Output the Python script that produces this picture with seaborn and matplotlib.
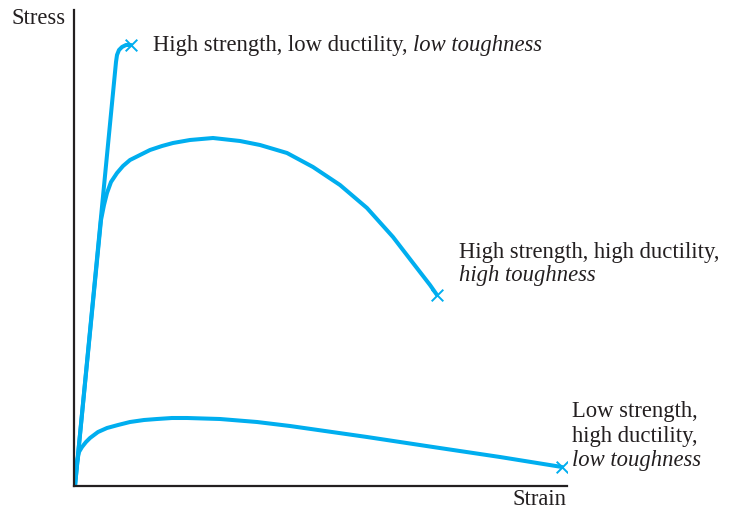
import matplotlib
matplotlib.use("Agg")
import matplotlib.pyplot as plt
import seaborn as sns
import pandas as pd

sns.set_theme(style="white")
plt.rcParams['font.family'] = ['Liberation Serif', 'DejaVu Serif']

# Curve data (strain, stress) in arbitrary units
brittle_strain = [1, 42, 43, 45, 48, 52, 57]
brittle_stress = [0, 424, 431, 436, 439, 441, 441]

tough_strain = [1, 27, 30, 33, 37, 43, 49, 56, 66, 76, 88, 99, 116, 139, 166, 186, 213, 239, 266, 293, 319, 339, 356, 363]
tough_stress = [0, 266, 281, 293, 304, 313, 320, 326, 331, 336, 340, 343, 346, 348, 345, 341, 333, 319, 301, 278, 249, 223, 201, 191]

soft_strain = [0, 3, 5, 8, 12, 16, 24, 33, 44, 56, 70, 83, 98, 113, 146, 183, 216, 244, 293, 359, 426, 488]
soft_stress = [0, 24, 34, 39, 44, 48, 54, 58, 61, 64, 66, 67, 68, 68, 67, 64, 60, 56, 49, 39, 29, 19]

labels = ["High strength, low ductility, ", "High strength, high ductility,", "Low strength,", "high ductility,"]
italic_labels = ["low toughness", "high toughness", "low toughness"]

color = "#00AEEF"
ink = "#231F20"

df = pd.concat([
    pd.DataFrame({"strain": brittle_strain, "stress": brittle_stress, "curve": "brittle"}),
    pd.DataFrame({"strain": tough_strain, "stress": tough_stress, "curve": "tough"}),
    pd.DataFrame({"strain": soft_strain, "stress": soft_stress, "curve": "soft"}),
])
ends = df.groupby("curve", sort=False).tail(1)

fig = plt.figure(figsize=(7.29, 5.11), dpi=100)
ax = fig.add_axes([74/729, 25/511, 493/729, 476/511])

sns.lineplot(data=df, x="strain", y="stress", units="curve", estimator=None, sort=False,
             color=color, linewidth=2.9, ax=ax, solid_capstyle="round", solid_joinstyle="round")
sns.scatterplot(data=ends, x="strain", y="stress", marker="x", color=color, s=70,
                linewidth=1.4, ax=ax, zorder=5)

ax.set_xlim(0, 493)
ax.set_ylim(0, 476)
ax.set_xticks([])
ax.set_yticks([])
ax.set_xlabel("")
ax.set_ylabel("")
for s in ["top", "right"]:
    ax.spines[s].set_visible(False)
for s in ["left", "bottom"]:
    ax.spines[s].set_color(ink)
    ax.spines[s].set_linewidth(1.6)

fs = 16.3
# label 1
t1 = ax.text(79, 441, labels[0], fontsize=fs, color=ink, ha="left", va="center", clip_on=False)
ax.annotate(italic_labels[0], xy=(1, 0), xycoords=t1, ha="left", va="bottom",
            fontsize=fs, color=ink, style="italic", annotation_clip=False)
# label 2
ax.text(385, 234, labels[1], fontsize=fs, color=ink, ha="left", va="center", clip_on=False)
ax.text(385, 211, italic_labels[1], fontsize=fs, color=ink, ha="left", va="center",
        style="italic", clip_on=False)
# label 3
ax.text(498, 75, labels[2], fontsize=fs, color=ink, ha="left", va="center", clip_on=False)
ax.text(498, 50, labels[3], fontsize=fs, color=ink, ha="left", va="center", clip_on=False)
ax.text(498, 26, italic_labels[2], fontsize=fs, color=ink, ha="left", va="center",
        style="italic", clip_on=False)

fig.text(66/729, 1 - 18/511, "Stress", fontsize=fs, color=ink, ha="right", va="center")
fig.text(566/729, 1.5/511, "Strain", fontsize=fs, color=ink, ha="right", va="bottom")

fig.savefig("out.png", dpi=100)
